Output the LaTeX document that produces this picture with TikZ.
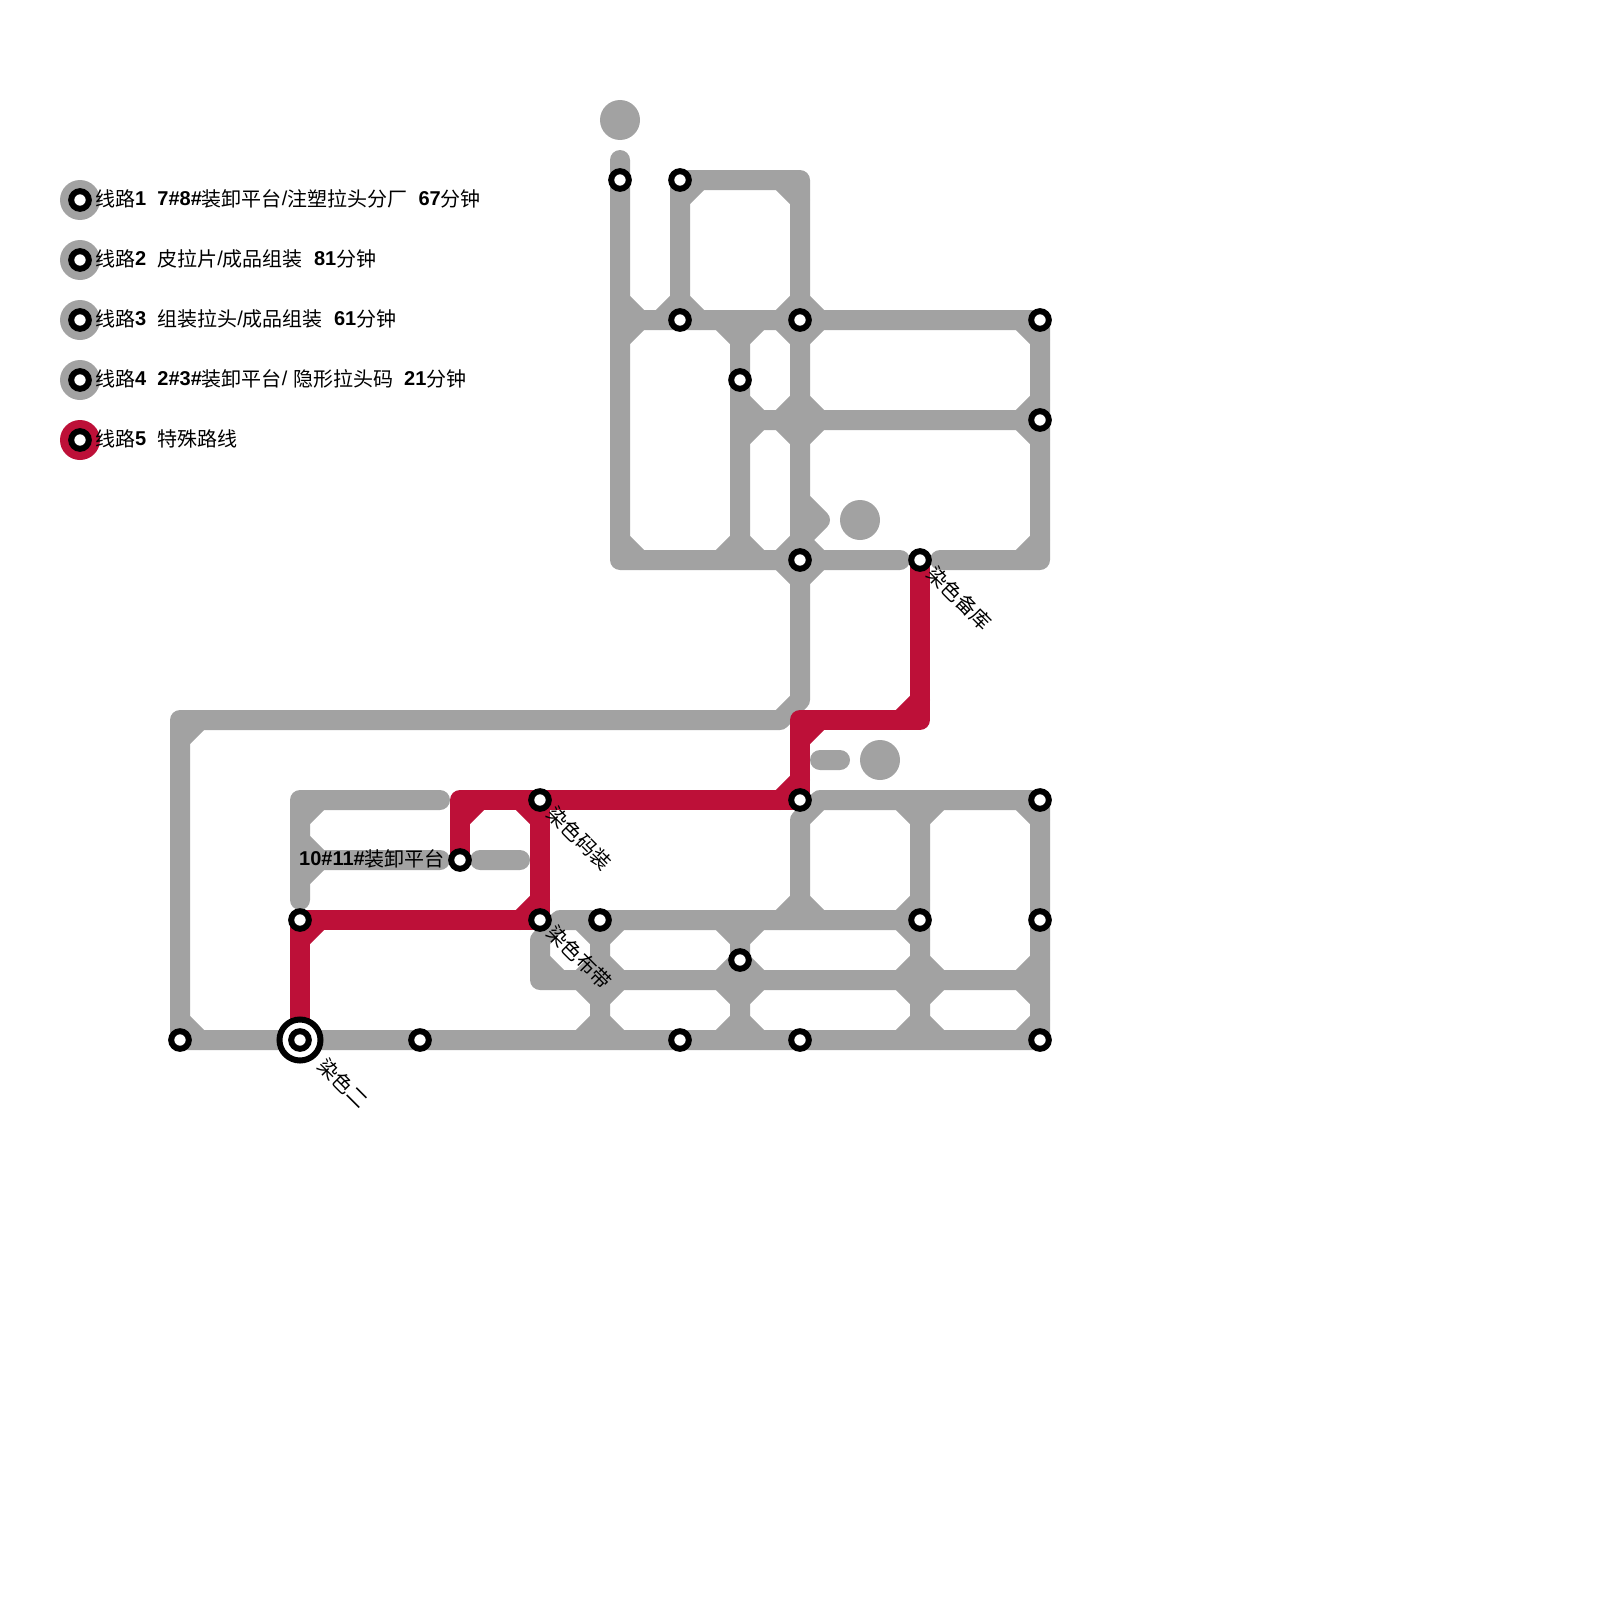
\documentclass[tikz,border=0pt]{standalone}
\usepackage{fontspec}
\setmainfont{Liberation Sans}
\newfontfamily\cjk{Noto Sans CJK SC}
\newcommand\zh[1]{{\cjk\mdseries\raisebox{-1.5pt}{#1}}}
\newcommand\gap{\hspace{11.1pt}}
\newcommand\slsh{{\mdseries /}}
\definecolor{linegray}{HTML}{A2A2A2}
\definecolor{linered}{HTML}{BD1038}
\tikzset{
  metro/.style={line width=20pt,line cap=round,line join=round,color=linegray},
  metrored/.style={metro,color=linered},
  hub/.style={circle,fill=linegray,minimum size=40pt,inner sep=0pt,outer sep=0pt},
  legdot/.style={hub},
  stn/.style={circle,draw=black,fill=white,line width=6pt,minimum size=17.6pt,inner sep=0pt,outer sep=0pt},
  bigstn/.style={circle,draw=black,fill=white,line width=6pt,minimum size=41pt,inner sep=0pt,outer sep=0pt},
  lbl/.style={anchor=base west,inner sep=0pt,font=\fontsize{20}{24}\selectfont\bfseries,text=black},
  diag/.style={anchor=west,inner sep=0pt,rotate=-45,font=\fontsize{20}{24}\selectfont,text=black}
}
\begin{document}
\begin{tikzpicture}[x=1pt,y=-1pt]
\useasboundingbox (0,0) rectangle (1600,1600);
\foreach \x in {180,200,300,320,420,440,460,480,520,540,560,580,600,620,640,660,680,700,720,740,760,780,800,820,840,900,920,940,1020,1040}
  \foreach \y in {160,180,200,300,320,340,380,400,420,440,500,520,540,560,580,700,720,740,760,780,800,820,840,860,880,900,920,940,960,980,1000,1020,1040}
    \coordinate (g\x-\y) at (\x,\y);

% grey lines
\draw[metro]
  (g620-160)--(g620-560)--(g900-560)
  (g940-560)--(g1040-560)--(g1040-320)--(g620-320)
  (g680-320)--(g680-180)--(g800-180)--(g800-700)--(g780-720)--(g180-720)--(g180-1040)--(g1040-1040)--(g1040-800)--(g820-800)--(g800-820)--(g800-920)
  (g740-320)--(g740-560)
  (g740-420)--(g1040-420)
  (g800-500)--(g820-520)--(g800-540)
  (g440-800)--(g300-800)--(g300-900)
  (g300-860)--(g440-860)
  (g480-860)--(g520-860)
  (g920-920)--(g560-920)--(g540-940)--(g540-980)--(g1040-980)
  (g600-920)--(g600-1040)
  (g740-920)--(g740-1040)
  (g920-800)--(g920-1040)
  (g820-760)--(g840-760);
% grey inner chamfers
\draw[metro]
  (g620-300)--(g640-320) (g620-340)--(g640-320)
  (g660-320)--(g680-300)--(g700-320)
  (g680-200)--(g700-180) (g780-180)--(g800-200)
  (g720-320)--(g740-340)--(g760-320)
  (g780-320)--(g800-300)--(g820-320)--(g800-340)--cycle
  (g1020-320)--(g1040-340)
  (g740-400)--(g760-420)--(g740-440)
  (g780-420)--(g800-400)--(g820-420)--(g800-440)--cycle
  (g1020-420)--(g1040-400) (g1020-420)--(g1040-440)
  (g780-560)--(g800-540)--(g820-560)--(g800-580)--cycle
  (g620-540)--(g640-560)
  (g720-560)--(g740-540)--(g760-560)
  (g1020-560)--(g1040-540)
  (g180-740)--(g200-720)
  (g180-1020)--(g200-1040)
  (g300-820)--(g320-800)
  (g300-840)--(g320-860)--(g300-880)
  (g780-920)--(g800-900)--(g820-920)
  (g900-800)--(g920-820)--(g940-800)
  (g1020-800)--(g1040-820)
  (g920-900)--(g900-920)--(g920-940)
  (g900-980)--(g920-960)--(g940-980)--(g920-1000)--cycle
  (g900-1040)--(g920-1020)--(g940-1040)
  (g1020-980)--(g1040-960) (g1020-980)--(g1040-1000)
  (g1020-1040)--(g1040-1020)
  (g540-960)--(g560-980)
  (g580-920)--(g600-940)--(g620-920)
  (g580-980)--(g600-960)--(g620-980)--(g600-1000)--cycle
  (g580-1040)--(g600-1020)--(g620-1040)
  (g720-920)--(g740-940)--(g760-920)
  (g720-980)--(g740-960)--(g760-980)--(g740-1000)--cycle
  (g720-1040)--(g740-1020)--(g760-1040);
% red lines
\draw[metrored]
  (g920-560)--(g920-720)--(g800-720)--(g800-800)--(g460-800)--(g460-860)
  (g540-800)--(g540-920)--(g300-920)--(g300-1040);
\draw[metrored]
  (g900-720)--(g920-700)
  (g800-740)--(g820-720)
  (g780-800)--(g800-780)
  (g460-820)--(g480-800)
  (g520-800)--(g540-820)
  (g540-900)--(g520-920)
  (g300-940)--(g320-920);

% terminals without a line
\node[hub] (hubA) at (620,120) {};
\node[hub] (hubB) at (860,520) {};
\node[hub] (hubC) at (880,760) {};

% stations
\node[stn] (s01) at (g620-180) {};
\node[stn] (s02) at (g680-180) {};
\node[stn] (s03) at (g680-320) {};
\node[stn] (s04) at (g800-320) {};
\node[stn] (s05) at (g740-380) {};
\node[stn] (s06) at (g1040-320) {};
\node[stn] (s07) at (g1040-420) {};
\node[stn] (s08) at (g800-560) {};
\node[stn] (s09) at (g920-560) {};
\node[stn] (s10) at (g800-800) {};
\node[stn] (s11) at (g1040-800) {};
\node[stn] (s12) at (g540-800) {};
\node[stn] (s13) at (g460-860) {};
\node[stn] (s14) at (g300-920) {};
\node[stn] (s15) at (g540-920) {};
\node[stn] (s16) at (g600-920) {};
\node[stn] (s17) at (g920-920) {};
\node[stn] (s18) at (g1040-920) {};
\node[stn] (s19) at (g740-960) {};
\node[stn] (s20) at (g180-1040) {};
\node[stn] (s21) at (g420-1040) {};
\node[stn] (s22) at (g680-1040) {};
\node[stn] (s23) at (g800-1040) {};
\node[stn] (s24) at (g1040-1040) {};
\node[bigstn] (s25) at (g300-1040) {};
\node[stn] (s26) at (g300-1040) {};

% legend
\node[legdot] (k1) at (80,200) {}; \node[stn] (k1s) at (k1) {};
\node[legdot] (k2) at (80,260) {}; \node[stn] (k2s) at (k2) {};
\node[legdot] (k3) at (80,320) {}; \node[stn] (k3s) at (k3) {};
\node[legdot] (k4) at (80,380) {}; \node[stn] (k4s) at (k4) {};
\node[legdot,fill=linered] (k5) at (80,440) {}; \node[stn] (k5s) at (k5) {};
\node[lbl] (t1) at (95,205) {\zh{线路}1\gap 7\#8\#\zh{装卸平台}\slsh\zh{注塑拉头分厂}\gap 67\zh{分钟}};
\node[lbl] (t2) at (95,265) {\zh{线路}2\gap\zh{皮拉片}\slsh\zh{成品组装}\gap 81\zh{分钟}};
\node[lbl] (t3) at (95,325) {\zh{线路}3\gap\zh{组装拉头}\slsh\zh{成品组装}\gap 61\zh{分钟}};
\node[lbl] (t4) at (95,385) {\zh{线路}4\gap 2\#3\#\zh{装卸平台}\slsh\hspace{5.56pt}\zh{隐形拉头码}\gap 21\zh{分钟}};
\node[lbl] (t5) at (95,445) {\zh{线路}5\gap\zh{特殊路线}};

% station labels
\node[lbl] (t6) at (299,865) {10\#11\#\zh{装卸平台}};
\node[diag] (t7) at (931,570) {\cjk 染色备库};
\node[diag] (t8) at (551,810) {\cjk 染色码装};
\node[diag] (t9) at (551,929) {\cjk 染色布带};
\node[diag] (t10) at (322,1062) {\cjk 染色二};
\end{tikzpicture}
\end{document}
